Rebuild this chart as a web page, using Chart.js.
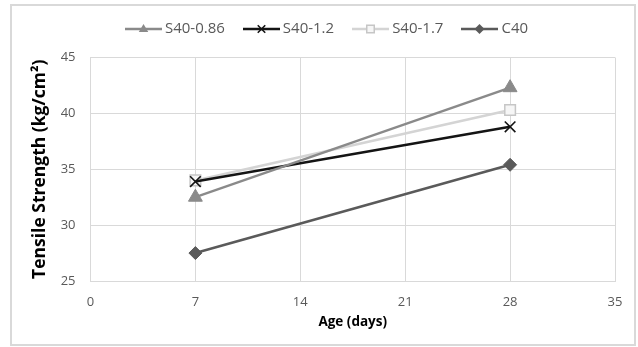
<!DOCTYPE html>
<html>
<head>
<meta charset="utf-8">
<script src="https://cdn.jsdelivr.net/npm/chart.js@4/dist/chart.umd.min.js"></script>
<style>
  html, body { margin: 0; padding: 0; background: #ffffff; }
  #wrap { position: relative; width: 638px; height: 347px; }
  #frame { position: absolute; left: 10px; top: 4px; width: 626px; height: 342px;
           border: 2px solid #d9d9d9; box-sizing: border-box; }
  #c { position: absolute; left: 0; top: 0; }
</style>
</head>
<body>
<div id="wrap">
  <div id="frame"></div>
  <canvas id="c" width="638" height="347"></canvas>
</div>
<script>
// Age at test (days)
const ages = [7, 28];

// Tensile strength (kg/cm²) per mix
const seriesNames = ['S40-0.86', 'S40-1.2', 'S40-1.7', 'C40'];
const s40_086 = [32.5, 42.3];
const s40_12  = [33.9, 38.8];
const s40_17  = [34.0, 40.3];
const c40     = [27.5, 35.4];

// Axis ticks
const xTicks = [0, 7, 14, 21, 28, 35];
const yTicks = [25, 30, 35, 40, 45];

const FONT = 'Open Sans';
const GRID = '#d9d9d9';
const TICK_COLOR = '#595959';

const styles = [
  { color: '#8a8a8a', marker: 'triangle', radius: 8,   fill: '#8a8a8a', edge: '#8a8a8a', edgeW: 1 },
  { color: '#141414', marker: 'crossRot', radius: 7.5, fill: '#141414', edge: '#141414', edgeW: 1.6 },
  { color: '#d4d4d4', marker: 'rect',     radius: 7.5, fill: '#f6f6f6', edge: '#c6c6c6', edgeW: 1.5 },
  { color: '#5a5a5a', marker: 'rectRot',  radius: 6.5, fill: '#5a5a5a', edge: '#5a5a5a', edgeW: 1 }
];
const values = [s40_086, s40_12, s40_17, c40];

// Legend swatch: short line with the series marker in its middle
function drawMarker(ctx, kind, r, x, y) {
  ctx.beginPath();
  if (kind === 'triangle') {
    ctx.moveTo(x, y - r);
    ctx.lineTo(x + r * 0.95, y + r * 0.6);
    ctx.lineTo(x - r * 0.95, y + r * 0.6);
    ctx.closePath(); ctx.fill();
  } else if (kind === 'crossRot') {
    ctx.moveTo(x - r * 0.75, y - r * 0.75); ctx.lineTo(x + r * 0.75, y + r * 0.75);
    ctx.moveTo(x + r * 0.75, y - r * 0.75); ctx.lineTo(x - r * 0.75, y + r * 0.75);
    ctx.stroke();
  } else if (kind === 'rect') {
    const s = r * 0.75;
    ctx.rect(x - s, y - s, 2 * s, 2 * s);
    ctx.fill(); ctx.stroke();
  } else if (kind === 'rectRot') {
    ctx.moveTo(x, y - r); ctx.lineTo(x + r, y); ctx.lineTo(x, y + r); ctx.lineTo(x - r, y);
    ctx.closePath(); ctx.fill();
  }
}
function makeSwatch(st) {
  const cv = document.createElement('canvas');
  cv.width = 37; cv.height = 14;
  const g = cv.getContext('2d');
  g.strokeStyle = st.color; g.lineWidth = 2.5;
  g.beginPath(); g.moveTo(0, 7); g.lineTo(37, 7); g.stroke();
  g.fillStyle = st.fill; g.strokeStyle = st.edge; g.lineWidth = st.edgeW;
  drawMarker(g, st.marker, 5, 18.5, 7);
  return cv;
}
const swatches = styles.map(makeSwatch);

// Paints each swatch into its legend entry, just left of the label text
const legendSwatches = {
  id: 'legendSwatches',
  afterDraw(chart) {
    const lg = chart.legend;
    if (!lg || !lg.legendHitBoxes) return;
    const ctx = chart.ctx;
    const bw = lg.options.labels.boxWidth;
    lg.legendHitBoxes.forEach((hb, i) => {
      const sw = swatches[lg.legendItems[i].datasetIndex];
      const x = hb.left + bw + 4.5 - sw.width;
      const y = hb.top + hb.height / 2 - sw.height / 2;
      ctx.drawImage(sw, Math.round(x), Math.round(y));
    });
  }
};

const datasets = seriesNames.map((name, i) => ({
  label: name,
  data: ages.map((a, k) => ({ x: a, y: values[i][k] })),
  borderColor: styles[i].color,
  backgroundColor: styles[i].fill,
  borderWidth: 2.5,
  tension: 0,
  pointStyle: styles[i].marker,
  pointRadius: styles[i].radius,
  pointBackgroundColor: styles[i].fill,
  pointBorderColor: styles[i].edge,
  pointBorderWidth: styles[i].edgeW,
  clip: false
}));

new Chart(document.getElementById('c'), {
  type: 'line',
  data: { datasets },
  plugins: [legendSwatches],
  options: {
    responsive: false,
    animation: false,
    devicePixelRatio: 1,
    layout: { padding: { top: 6.5, left: 24, right: 23, bottom: 0 } },
    plugins: {
      tooltip: { enabled: false },
      legend: {
        position: 'top',
        labels: {
          boxWidth: 46.5,
          boxHeight: 37,
          padding: 4,
          color: TICK_COLOR,
          font: { family: FONT, size: 15 },
          generateLabels(chart) {
            return Chart.defaults.plugins.legend.labels.generateLabels(chart)
              .map(l => Object.assign(l, {
                fillStyle: 'rgba(0,0,0,0)',
                strokeStyle: 'rgba(0,0,0,0)',
                lineWidth: 0
              }));
          }
        }
      }
    },
    scales: {
      x: {
        type: 'linear',
        min: xTicks[0],
        max: xTicks[xTicks.length - 1],
        afterBuildTicks(s) { s.ticks = xTicks.map(v => ({ value: v })); },
        afterFit(s) { s.height = 66; },
        grid: { color: GRID, lineWidth: 1, drawTicks: false },
        border: { color: GRID, width: 1 },
        ticks: { color: TICK_COLOR, padding: 13, font: { family: FONT, size: 13 } },
        title: {
          display: true,
          text: 'Age (days)',
          color: '#000000',
          font: { family: FONT, size: 13.5, weight: 'bold' },
          padding: { top: 0, bottom: 17 }
        }
      },
      y: {
        type: 'linear',
        min: yTicks[0],
        max: yTicks[yTicks.length - 1],
        afterBuildTicks(s) { s.ticks = yTicks.map(v => ({ value: v })); },
        afterFit(s) { s.width = 66.5; },
        grid: { color: GRID, lineWidth: 1, drawTicks: false },
        border: { color: GRID, width: 1 },
        ticks: { color: TICK_COLOR, padding: 15, font: { family: FONT, size: 13 } },
        title: {
          display: true,
          text: 'Tensile Strength (kg/cm²)',
          color: '#000000',
          font: { family: FONT, size: 17.5, weight: 'bold' },
          padding: { top: 5.5, bottom: 0 }
        }
      }
    }
  }
});
</script>
</body>
</html>
